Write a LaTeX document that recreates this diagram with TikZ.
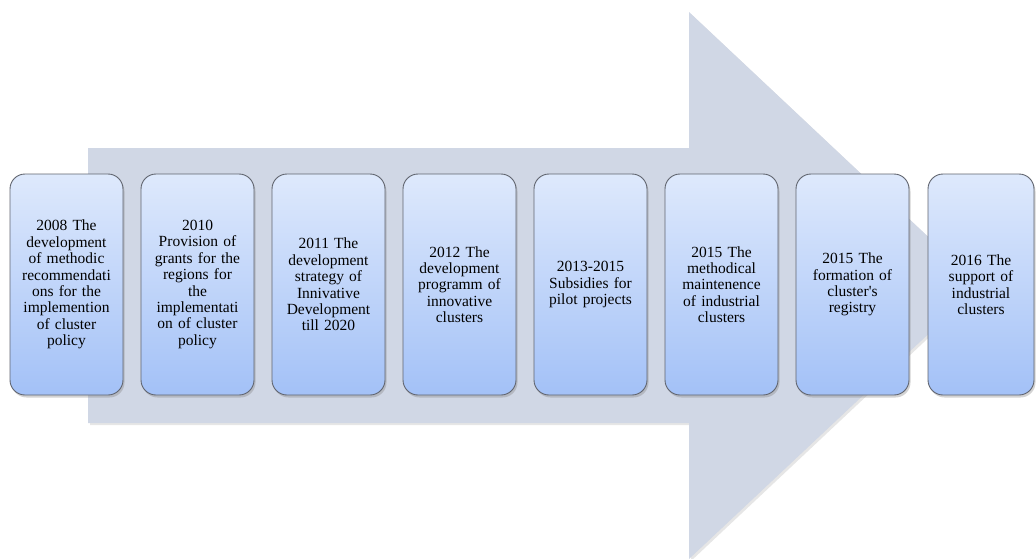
\documentclass[tikz,border=0pt]{standalone}
\usepackage{fontspec}
\setmainfont{Liberation Serif}
\usetikzlibrary{shadows}
\definecolor{arrowfill}{RGB}{208,215,229}
\definecolor{boxtop}{RGB}{222,233,252}
\definecolor{boxbot}{RGB}{163,193,247}
\definecolor{boxline}{RGB}{96,100,110}
\begin{document}
\begin{tikzpicture}[x=1pt,y=-1pt,line join=round,
		font=\fontsize{15.5}{16.4}\selectfont,
		yearbox/.style={draw=boxline,line width=0.9pt,rounded corners=15pt,
			top color=boxtop,bottom color=boxbot,
			minimum width=113pt,minimum height=221pt,text width=110pt,
			inner sep=0pt,align=center,
			drop shadow={opacity=0.35,shadow xshift=1.5pt,shadow yshift=-2.5pt}}]
		\useasboundingbox (0,0) rectangle (1036,558);
		% big arrow behind the boxes
		\fill[arrowfill,drop shadow={opacity=0.2,shadow xshift=2pt,shadow yshift=-2pt}]
		(88,148)--(689,148)--(689,12)--(980,285.5)--(689,559)--(689,423)--(88,423)--cycle;
		% years
		\node[yearbox] (y2008) at (66.5,284.5) {2008 The\\development\\of methodic\\recommendati\\ons for the\\implemention\\of cluster\\policy};
		\node[yearbox] (y2010) at (197.5,284.5) {2010\\Provision of\\grants for the\\regions for\\the\\implementati\\on of cluster\\policy};
		\node[yearbox] (y2011) at (328.5,284.5) {2011 The\\development\\strategy of\\Innivative\\Development\\till 2020};
		\node[yearbox] (y2012) at (459.5,284.5) {2012 The\\development\\programm of\\innovative\\clusters};
		\node[yearbox] (y2013) at (590.5,284.5) {2013-2015\\Subsidies for\\pilot projects};
		\node[yearbox] (y2015a) at (721.5,284.5) {2015 The\\methodical\\maintenence\\of industrial\\clusters};
		\node[yearbox] (y2015b) at (852.5,284.5) {2015 The\\formation of\\cluster\textquotesingle s\\registry};
		\node[yearbox,minimum width=106pt,text width=102pt] (y2016) at (981,284.5) {2016 The\\support of\\industrial\\clusters};
\end{tikzpicture}
\end{document}
